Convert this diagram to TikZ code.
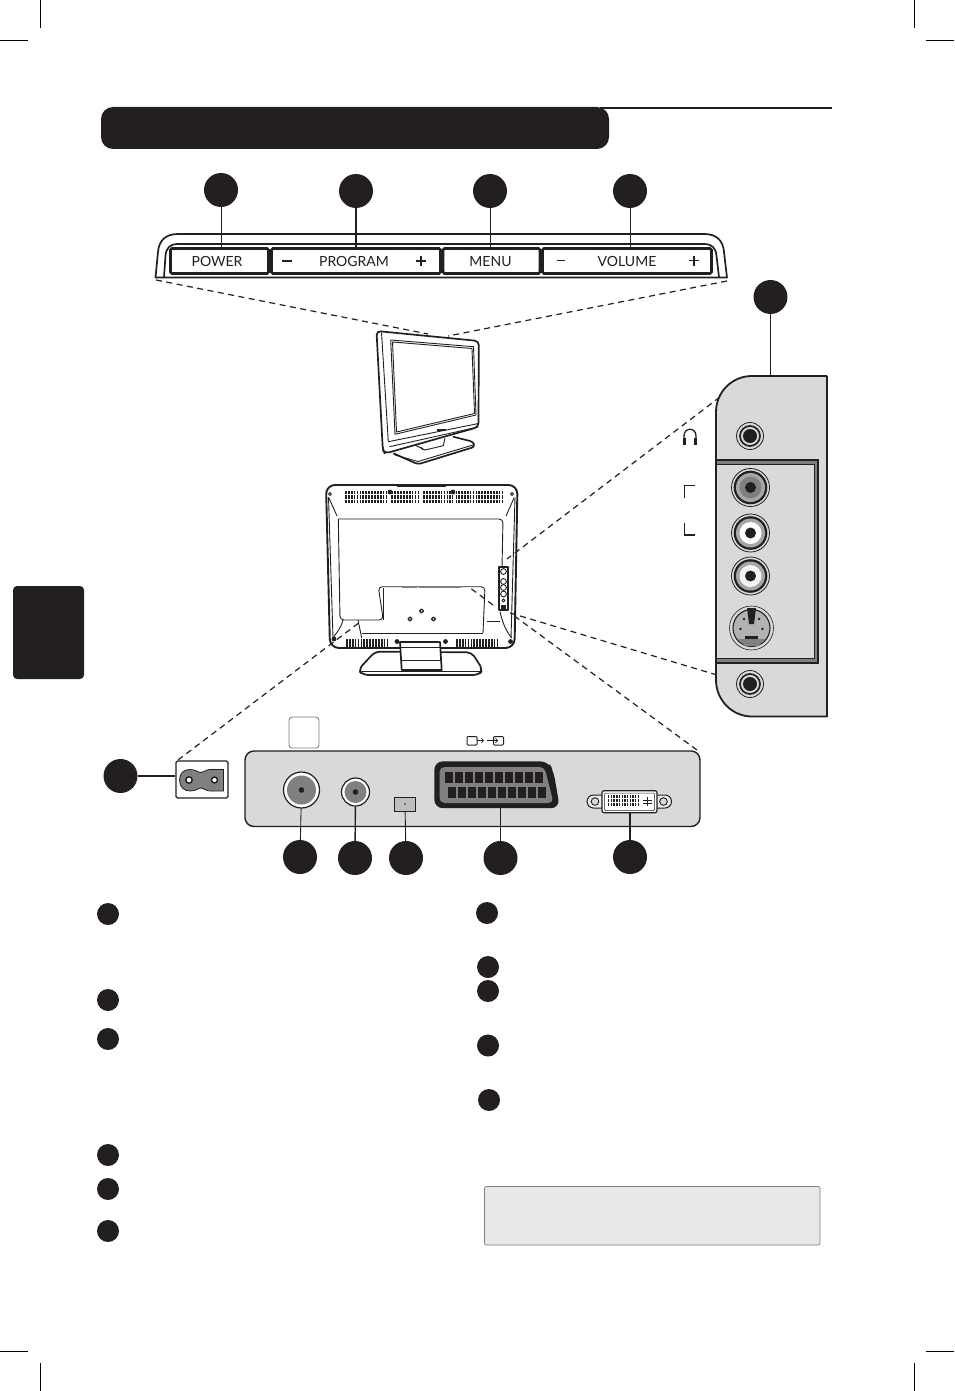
\documentclass[tikz,border=0pt]{standalone}
\usepackage{fontspec}
\setmainfont{Lato}
\usetikzlibrary{calc}

\definecolor{inkblack}{HTML}{231F20}
\definecolor{panelgray}{HTML}{D9D9D9}
\definecolor{notegray}{HTML}{E8E8E8}

\begin{document}
\begin{tikzpicture}[x=1pt,y=-1pt]
	
		\tikzset{
		  bubble/.style={
			circle,
			fill=inkblack,
			inner sep=0pt,
			minimum size=34pt,
		  },
		  dot/.style={
			circle,
			fill=inkblack,
			inner sep=0pt,
			minimum size=22pt,
		  },
		  key/.style={
			draw=inkblack,
			line width=2.6pt,
			rounded corners=1.5pt,
			fill=white,
			inner sep=0pt,
			minimum height=25pt,
		  },
		  keytext/.style={
			inner sep=0pt,
			text=inkblack,
			text height=10pt,
			text depth=0pt,
			font=\fontsize{14}{14}\selectfont,
		  },
		  lead/.style={color=inkblack,line width=0.9pt},
		  zoomline/.style={color=inkblack,line width=1.2pt,dash pattern=on 6pt off 4.5pt},
		  body/.style={color=inkblack,line width=1.7pt,line join=round},
		  thin body/.style={color=inkblack,line width=0.9pt,line join=round},
		  vent/.style={color=inkblack,line width=3.6pt,dash pattern=on 1.7pt off 1.2pt},
		}
		\useasboundingbox (0,0) rectangle (954,1391);
		
		% crop marks
		\draw[color=black,line width=0.4pt] (40,0)--(40,28);
		\draw[color=black,line width=0.4pt] (0,40)--(28,40);
		\draw[color=black,line width=0.4pt] (914,0)--(914,28);
		\draw[color=black,line width=0.4pt] (926,40)--(954,40);
		\draw[color=black,line width=0.4pt] (40,1363)--(40,1391);
		\draw[color=black,line width=0.4pt] (0,1351)--(28,1351);
		\draw[color=black,line width=0.4pt] (914,1363)--(914,1391);
		\draw[color=black,line width=0.4pt] (926,1351)--(954,1351);
		
		% heading bar and page tab
		\draw[color=inkblack,line width=1.6pt] (600,108)--(832,108);
		\fill[color=inkblack,rounded corners=12pt] (101,107) rectangle (609,149);
		\fill[color=inkblack,rounded corners=4pt] (13,586)--(84,586)--(84,679)--(13,679)--cycle;
		
		% key strip
		\draw[body] (155.5,277.5)--(158,252) .. controls (159,240) and (166,234) .. (178,234)--(704,234) .. controls (716,234) and (723,240) .. (724,252)--(727,277.5)--cycle;
		\draw[body] (164,277)--(165.5,256) .. controls (166,248) and (170,244) .. (178,244)--(704,244) .. controls (712,244) and (716,248) .. (716.5,256)--(719,277);
		\node[key,minimum width=98pt] (powerkey) at (219.5,261) {};
		\node[key,minimum width=169pt] (programkey) at (356,261) {};
		\node[key,minimum width=97pt] (menukey) at (491.5,261) {};
		\node[key,minimum width=169pt] (volumekey) at (627,261) {};
		\node[keytext] (powertext) at (217,261) {POWER};
		\node[keytext] (programtext) at (354,261) {PROGRAM};
		\node[keytext] (menutext) at (490.5,261) {MENU};
		\node[keytext] (volumetext) at (627,261) {VOLUME};
		\draw[color=inkblack,line width=2pt] (282,260.5)--(292,260.5);
		\draw[color=inkblack,line width=2pt] (415.5,260.5)--(425.5,260.5);
		\draw[color=inkblack,line width=2pt] (420.5,255.5)--(420.5,265.5);
		\draw[color=inkblack,line width=0.9pt] (556.5,260.5)--(564.5,260.5);
		\draw[color=inkblack,line width=1.6pt] (689,260.5)--(699,260.5);
		\draw[color=inkblack,line width=1.6pt] (694,255.5)--(694,265.5);
		
		% numbered markers with their leads
		\node[bubble] (powermark) at (221,190) {};
		\node[bubble] (programmark) at (356,191) {};
		\node[bubble] (menumark) at (490,191) {};
		\node[bubble] (volumemark) at (630,191) {};
		\node[bubble] (sidemark) at (770.5,297) {};
		\node[bubble] (mainsmark) at (120.5,776) {};
		\node[bubble] (aerialmark) at (300,857) {};
		\node[bubble] (satmark) at (355,858) {};
		\node[bubble] (cardmark) at (406,858) {};
		\node[bubble] (scartmark) at (500.5,858) {};
		\node[bubble] (dvimark) at (630,857) {};
		\draw[lead] (powermark)--(powermark |- powerkey.north);
		\draw[lead,line width=1.3pt] (programmark)--(programmark |- programkey.north);
		\draw[lead] (menumark)--(menumark |- menukey.north);
		\draw[lead] (volumemark)--(volumemark |- volumekey.north);
		
		% front of the set
		\draw[body,rounded corners=4pt] (376.5,331)--(478.8,341)--(478.5,427)--(385,453.5)--(382.8,450)--cycle;
		\draw[thin body] (381.5,332.5)--(388.3,441.7)--(478.5,423.5);
		\draw[thin body] (389.5,446.7)--(478.3,427);
		\draw[thin body] (390.7,340)--(473.5,346.7)--(476,415)--(395,434.3)--cycle;
		\draw[thin body] (392.5,342)--(472,348.5)--(474.5,413.5)--(396.5,432)--cycle;
		\draw[body,rounded corners=3pt] (393.3,453.3)--(418,464.3)--(475,446.7)--(473,441.7)--(453,436.7);
		\draw[thin body] (395,455)--(418,461.5)--(473,445);
		\draw[thin body] (415,445)--(425,450)--(443.3,445.7)--(445,438);
		\draw[thin body] (421,447)--(423,450);
		\fill[color=inkblack] (437,429) rectangle (446,431);
		
		% back of the set
		\draw[body,line width=1.9pt,rounded corners=9pt] (326,485)--(517.5,485)--(514.5,648)--(330,648)--cycle;
		\draw[thin body] (329,498)--(337,516);
		\draw[thin body] (514,498)--(506,516);
		\draw[thin body] (328.5,497)--(333,638);
		\draw[thin body] (515,497)--(511,638);
		\draw[color=inkblack,line width=2.4pt] (397,486)--(446,486);
		\draw[thin body,rounded corners=4pt] (338.3,519)--(503,519)--(502,568);
		\draw[thin body,rounded corners=4pt] (338.3,519)--(340,620)--(383.3,620)--(378.3,586.7)--(485,586.7)--(483,633);
		\draw[thin body] (383.5,588)--(383.5,620);
		\draw[thin body] (486.5,621.7)--(500,621.7);
		\draw[thin body] (361.7,633)--(483,633);
		\draw[thin body] (343,620) .. controls (341,628) and (337,632) .. (333,638);
		\draw[thin body] (358,620)--(361.7,638);
		\draw[thin body] (500,611.7) .. controls (503,625) and (507,632) .. (511.7,638);
		\draw[color=gray,line width=1.6pt] (402,587)--(417,587);
		\draw[color=gray,line width=1.6pt] (419,587)--(461,587);
		\foreach \ventrow in {492.5,497,501.5} {
			\draw[vent] (345,\ventrow)--(502,\ventrow);
		}
		\foreach \ventx in {389,421.5,454.5} {
			\draw[color=white,line width=3pt] (\ventx,490)--(\ventx,504);
		}
		\draw[vent] (346,641)--(388,641);
		\draw[vent] (346,645)--(388,645);
		\draw[vent] (456,641)--(499,641);
		\draw[vent] (456,645)--(499,645);
		\foreach \screwx/\screwy in {390/492,453/492,397/641.5,445.5/641.5,334/639,510.5/641.5} {
			\fill[color=inkblack] (\screwx,\screwy) circle (2.4pt);
		}
		\foreach \screwx/\screwy in {330/494,512/494} {
			\draw[thin body] (\screwx,\screwy) circle (1.5pt);
		}
		\draw[thin body,line width=1.2pt] (421.5,609)--(423.5,611)--(421.5,613)--(419.5,611)--cycle;
		\draw[thin body,line width=1.2pt] (410,617)--(412,619)--(410,621)--(408,619)--cycle;
		\draw[thin body,line width=1.2pt] (433.5,617)--(435.5,619)--(433.5,621)--(431.5,619)--cycle;
		
		% socket strip on the back
		\draw[body,line width=2pt,fill=white] (498.5,567)--(508,567)--(508,610)--(498.5,610)--cycle;
		\foreach \holey in {571.5,581.5,587.5,594} {
			\draw[thin body] (503.5,\holey) circle (2.9pt);
		}
		\draw[thin body] (503.5,600.5) circle (1.5pt);
		\fill[color=inkblack] (501,604.5) rectangle (506,609);
		
		% stand at the back
		\draw[body,rounded corners=5pt] (375,651.7)--(471.7,652.3)--(483,670)--(478.3,675)--(363.3,675)--(358,670)--cycle;
		\draw[thin body] (361.7,671)--(480,671);
		\draw[body,fill=white] (400,642)--(440,642)--(441.7,670)--(401.7,670)--cycle;
		\draw[thin body] (401,660)--(441,660);
		\draw[thin body] (401,647)--(440.5,647);
		
		% dashed zoom lines
		\draw[zoomline] (156,280)--(428,334);
		\draw[zoomline] (727,281)--(448,336);
		\draw[zoomline] (720,397)--(507,559);
		\draw[zoomline] (717,675)--(507,612);
		\draw[zoomline] (697,750)--(513,615);
		\draw[zoomline] (493,605)--(469,587);
		\draw[zoomline] (178,760)--(360,622);
		
		% side connector panel
		\coordinate (sidetop) at (770.5,376);
		\fill[color=panelgray] (827,376)--(752,376) .. controls (732,376) and (716,392) .. (716,412)--(716,680) .. controls (716,700) and (732,716.5) .. (752,716.5)--(827,716.5)--cycle;
		\draw[color=inkblack,line width=1.8pt] (827,376)--(752,376) .. controls (732,376) and (716,392) .. (716,412)--(716,680) .. controls (716,700) and (732,716.5) .. (752,716.5)--(827,716.5);
		\draw[color=inkblack,line width=1.1pt] (827,376)--(827,716.5);
		\draw[lead,line width=1.1pt] (sidemark)--(sidetop);
		\draw[color=inkblack,fill=gray,line width=1.2pt] (716,460) rectangle (818,663);
		\draw[color=inkblack,fill=panelgray,line width=0.9pt] (716,464.5) rectangle (814,658.5);
		\foreach \jacky in {436,684} {
			\draw[color=inkblack,line width=0.8pt,fill=panelgray] (750,\jacky) circle (13.5pt);
			\draw[color=inkblack,line width=1.7pt,fill=panelgray] (750,\jacky) circle (10pt);
			\fill[color=inkblack] (750,\jacky) circle (7pt);
		}
		\foreach \rcay/\rcaring/\rcacore in {487.5/gray!70/gray,533/gray!70/white,576/gray!70/panelgray!30} {
			\draw[color=inkblack,line width=0.8pt,fill=panelgray] (750.5,\rcay) circle (19pt);
			\fill[color=inkblack] (750.5,\rcay) circle (16.8pt);
			\fill[color=\rcaring] (750.5,\rcay) circle (14.5pt);
			\fill[color=\rcacore] (750.5,\rcay) circle (11pt);
			\fill[color=inkblack] (750.5,\rcay) circle (5.5pt);
		}
		\draw[color=inkblack,line width=0.6pt,fill=panelgray] (751.5,628) circle (22pt);
		\draw[color=inkblack,line width=1.1pt,fill=gray!60] (751.5,628) circle (18.5pt);
		\fill[color=inkblack] (747,608)--(756,608)--(754,624)--(749,624)--cycle;
		\fill[color=gray] (738,639)--(765,639)--(758,646)--(745,646)--cycle;
		\draw[color=inkblack,line width=3pt] (745,637.5)--(758,637.5);
		\foreach \pinx/\piny in {744/619,759/619,740.5/629,762.5/629} {
			\fill[color=inkblack] (\pinx,\piny) circle (1.3pt);
		}
		
		% labels beside the panel
		\draw[color=inkblack,line width=1.3pt] (684,439)--(684,436) .. controls (684,427) and (696,427) .. (696,436)--(696,439);
		\draw[color=inkblack,line width=3pt] (684.5,438)--(684.5,444.5);
		\draw[color=inkblack,line width=3pt] (695.5,438)--(695.5,444.5);
		\draw[color=inkblack,line width=1.7pt] (695,485.5)--(684.5,485.5)--(684.5,498);
		\draw[color=inkblack,line width=1.7pt] (684.5,522.5)--(684.5,535)--(695,535);
		
		% rear socket panel
		\draw[color=gray,line width=0.9pt,rounded corners=3pt] (289,717) rectangle (319,748);
		\draw[color=inkblack,fill=panelgray,line width=1.4pt,rounded corners=9pt] (245,751) rectangle (700,826.5);
		\draw[color=inkblack,line width=1pt,rounded corners=1pt] (467,736.5) rectangle (477,745);
		\draw[color=inkblack,line width=1pt,rounded corners=1pt] (493.5,736.5) rectangle (503.5,745);
		\draw[color=inkblack,line width=0.9pt,->] (477,740.5)--(484,740.5);
		\draw[color=inkblack,line width=0.9pt,->] (487,740.5)--(498,740.5);
		
		% aerial sockets
		\node[circle,draw=inkblack,line width=1.2pt,fill=white,inner sep=0pt,minimum size=36pt] (aerial) at (301.5,790) {};
		\fill[color=gray] (301.5,790) circle (14.5pt);
		\fill[color=inkblack] (301.5,790) circle (2.8pt);
		\node[circle,draw=inkblack,line width=1.2pt,fill=white,inner sep=0pt,minimum size=28pt] (satin) at (355.5,792) {};
		\fill[color=gray] (355.5,792) circle (11pt);
		\fill[color=inkblack] (355.5,792) circle (2.8pt);
		\draw[lead] (aerial)--(aerialmark);
		\draw[lead,line width=1.4pt] (satin)--(satmark);
		
		% card slot
		\node[draw=inkblack,line width=0.8pt,fill=gray!50,inner sep=0pt,minimum width=21pt,minimum height=14pt] (card) at (405,804) {};
		\fill[color=inkblack] (405,804) circle (0.8pt);
		\draw[lead] (card)--(cardmark);
		
		% scart socket
		\coordinate (scartfoot) at (500.5,808);
		\draw[color=inkblack,fill=inkblack,line width=1.4pt,rounded corners=8pt] (435,762)--(548,762)--(553,772)--(559,807.5)--(435,807.5)--cycle;
		\fill[color=gray,rounded corners=5pt] (439.5,767)--(544.5,767)--(553.5,803)--(439.5,803)--cycle;
		\foreach \pinx in {0,...,9} {
			\fill[color=inkblack] ({445+\pinx*10},771.7) rectangle ({453+\pinx*10},783);
		}
		\foreach \pinx in {0,...,9} {
			\fill[color=inkblack] ({447.5+\pinx*10},786.7) rectangle ({455.5+\pinx*10},798);
		}
		\draw[lead] (scartfoot)--(scartmark);
		
		% dvi socket
		\coordinate (dvifoot) at (630,813);
		\draw[color=inkblack,fill=panelgray!50,line width=1pt,rounded corners=6.5pt] (587,795) rectangle (671.5,808);
		\draw[color=inkblack,fill=panelgray,line width=0.9pt] (595,801.5) circle (3.8pt);
		\draw[color=inkblack,fill=panelgray,line width=0.9pt] (663.5,801.5) circle (3.8pt);
		\draw[color=inkblack,fill=white,line width=1.2pt,rounded corners=2pt] (602,790.7) rectangle (657,812.7);
		\draw[color=inkblack,line width=0.5pt,rounded corners=1pt] (604.5,793) rectangle (654.5,810.5);
		\foreach \pinrow in {796.5,800.5,804.5} {
			\draw[color=inkblack,line width=2.2pt,dash pattern=on 1.4pt off 1.3pt] (608,\pinrow)--(638,\pinrow);
		}
		\draw[color=inkblack,line width=0.7pt] (643,800)--(652,800);
		\draw[color=inkblack,line width=0.7pt] (643,803)--(652,803);
		\draw[color=inkblack,line width=0.7pt] (647.5,797)--(647.5,806);
		\draw[lead,line width=1.4pt] (dvifoot)--(dvimark);
		
		% mains inlet
		\node[draw=inkblack,line width=1.1pt,fill=white,rounded corners=1.5pt,inner sep=0pt,minimum width=52pt,minimum height=37pt] (mains) at (202,779.5) {};
		\draw[lead,line width=1.1pt] (mainsmark)--(mainsmark -| mains.west);
		\draw[color=inkblack,fill=gray,line width=0.8pt] (179.5,780) .. controls (179.5,773) and (184,769.5) .. (190,769.5) .. controls (196,769.5) and (198,772.5) .. (201,772.5) .. controls (204,772.5) and (206,769.5) .. (210,769.5)--(223.5,769.5)--(223.5,791)--(210,791) .. controls (206,791) and (204,788) .. (201,788) .. controls (198,788) and (196,791) .. (190,791) .. controls (184,791) and (179.5,787) .. (179.5,780)--cycle;
		\draw[color=inkblack,fill=white,line width=1.4pt] (189,780) circle (3.2pt);
		\draw[color=inkblack,fill=white,line width=1.4pt] (214.5,780) circle (3pt);
		
		% numbered list markers
		\node[dot] (listone) at (108,914) {};
		\node[dot] (listtwo) at (108,1000) {};
		\node[dot] (listthree) at (108,1039) {};
		\node[dot] (listfour) at (108,1155) {};
		\node[dot] (listfive) at (108,1189) {};
		\node[dot] (listsix) at (108,1231) {};
		\node[dot] (listseven) at (487,913) {};
		\node[dot] (listeight) at (488,967) {};
		\node[dot] (listnine) at (488,991) {};
		\node[dot] (listten) at (488,1045.5) {};
		\node[dot] (listeleven) at (489,1100) {};
		
		% note box
		\draw[color=gray,fill=notegray,line width=0.7pt,rounded corners=2pt] (484.5,1186.5) rectangle (820,1245);
	
	\end{tikzpicture}
\end{document}
